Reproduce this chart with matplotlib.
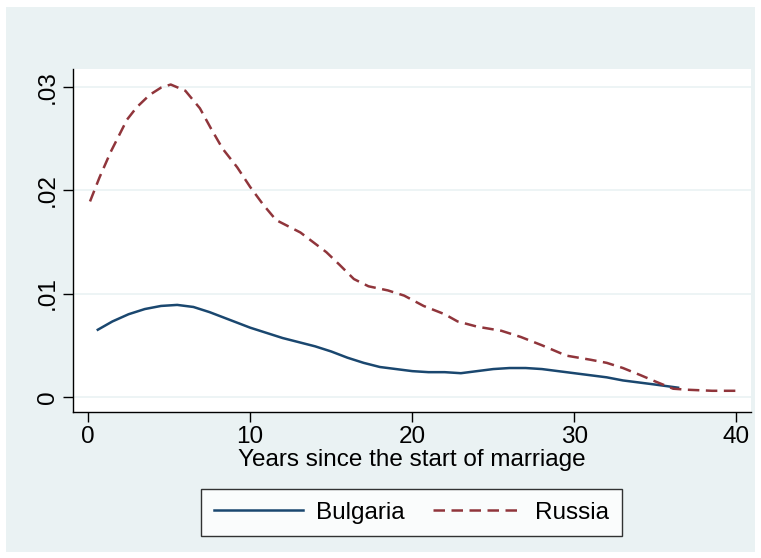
import matplotlib
matplotlib.use("Agg")
import matplotlib.pyplot as plt
from matplotlib.patches import Rectangle

plt.rcParams['font.family'] = ['Liberation Sans', 'DejaVu Sans']

# Hazard estimates
bg_years = [0.6, 1.5, 2.5, 3.5, 4.5, 5.5, 6.5, 7.5, 8.5, 10, 11, 12, 13, 14, 15, 16,
            17, 18, 19, 20, 21, 22, 23, 24, 25, 26, 27, 28, 29, 30, 31, 32, 33,
            34, 35, 36.4]
bg_rate = [0.0065, 0.0073, 0.0080, 0.0085, 0.0088, 0.0089, 0.0087, 0.0082, 0.0076,
           0.0067, 0.0062, 0.0057, 0.0053, 0.0049, 0.0044, 0.0038, 0.0033, 0.0029,
           0.0027, 0.0025, 0.0024, 0.0024, 0.0023, 0.0025, 0.0027, 0.0028, 0.0028,
           0.0027, 0.0025, 0.0023, 0.0021, 0.0019, 0.0016, 0.0014, 0.0012, 0.0009]

ru_years = [0.12, 0.7, 1.4, 2.4, 3.0, 3.8, 4.5, 5.1, 6.0, 6.9, 7.6, 8.3, 9.2, 10,
            10.8, 11.6, 13.1, 14.7, 15.5, 16.4, 17.3, 18.5, 19.5, 20.7, 22.0, 22.8,
            24.0, 25.5, 26.7, 28.0, 29.5, 31.0, 32.0, 33.0, 34.1, 35.0, 36.1, 37.0,
            38.5, 40.0]
ru_rate = [0.0189, 0.0212, 0.0237, 0.0268, 0.0280, 0.0292, 0.0299, 0.0302, 0.0296,
           0.0279, 0.0259, 0.0240, 0.0222, 0.0203, 0.0186, 0.0171, 0.0159, 0.0140,
           0.0128, 0.0114, 0.0107, 0.0103, 0.0098, 0.0088, 0.0080, 0.0073, 0.0068,
           0.0064, 0.0058, 0.0050, 0.0040, 0.0036, 0.0033, 0.0028, 0.0021, 0.0015,
           0.0008, 0.0007, 0.0006, 0.0006]

x_ticks = [0, 10, 20, 30, 40]
y_ticks = [0, 0.01, 0.02, 0.03]
y_labels = ['0', '.01', '.02', '.03']

bg_col = '#EAF2F3'
navy = '#1A476F'
maroon = '#90353B'

fig = plt.figure(figsize=(7.61, 5.58), dpi=100, facecolor='white')
fig.patches.append(Rectangle((6 / 761, 6 / 558), 749 / 761, 545 / 558,
                             transform=fig.transFigure, facecolor=bg_col,
                             edgecolor='none', zorder=-10))

ax = fig.add_axes([73 / 761, 146 / 558, 678 / 761, 343 / 558])
ax.set_facecolor('white')

ax.plot(bg_years, bg_rate, color=navy, lw=1.8, label='Bulgaria')
ax.plot(ru_years, ru_rate, color=maroon, lw=1.8, dashes=(4.6, 2.6), label='Russia')

ax.set_xlim(-0.93, 40.9)
ax.set_ylim(-0.00145, 0.0317)
ax.set_xticks(x_ticks)
ax.set_yticks(y_ticks)
ax.set_yticklabels(y_labels, rotation=90, va='center')
ax.tick_params(axis='both', labelsize=17.5, length=7, width=1, color='black', pad=3)
ax.grid(axis='y', color=bg_col, lw=1.2)
ax.set_axisbelow(True)
for side in ['top', 'right']:
    ax.spines[side].set_visible(False)
for side in ['left', 'bottom']:
    ax.spines[side].set_linewidth(1)

ax.set_xlabel('Years since the start of marriage', fontsize=17.5, labelpad=1)

leg = fig.legend(loc='center', bbox_to_anchor=(411.5 / 761, (558 - 512.5) / 558),
                 ncol=2, fontsize=17.5, frameon=True, fancybox=False,
                 handlelength=3.7, handletextpad=0.5, columnspacing=1.2,
                 borderpad=0.5)
leg.get_frame().set_edgecolor('black')
leg.get_frame().set_linewidth(1)

fig.savefig('out.png', dpi=100, facecolor='white')
